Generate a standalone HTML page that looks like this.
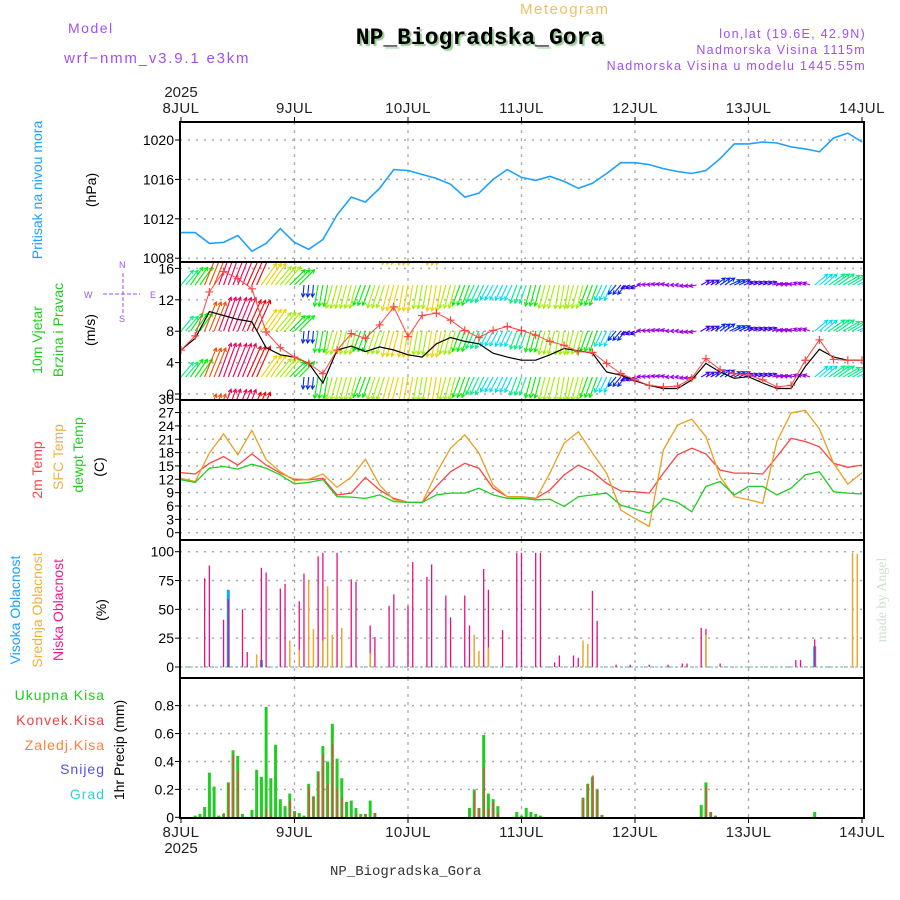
<!DOCTYPE html>
<html><head><meta charset="utf-8"><style>
body{margin:0;background:#fff;width:900px;height:900px;overflow:hidden;font-family:"Liberation Sans",sans-serif}
svg{position:absolute;left:0;top:0}
</style></head><body>
<svg id="chart" width="900" height="900" viewBox="0 0 900 900" font-family="Liberation Sans, sans-serif">
<g id="hdr">
<text x="68" y="33" font-size="14" fill="#a050f0" letter-spacing="1.5">Model</text>
<text x="64" y="63" font-size="15" fill="#a050f0" letter-spacing="1.8">wrf−nmm_v3.9.1 e3km</text>
<text x="520" y="14" font-size="15" fill="#f0c060" letter-spacing="1.5">Meteogram</text>
<text x="480" y="44" font-size="23" font-weight="bold" font-family="Liberation Mono, monospace" text-anchor="middle" fill="#000" style="text-shadow:2px 2px 1px #9c9">NP_Biogradska_Gora</text>
<text x="866" y="38" font-size="12.5" fill="#a050f0" text-anchor="end" letter-spacing="1.3">lon,lat (19.6E, 42.9N)</text>
<text x="866" y="54" font-size="12.5" fill="#a050f0" text-anchor="end" letter-spacing="1.3">Nadmorska Visina 1115m</text>
<text x="866" y="70" font-size="12.5" fill="#a050f0" text-anchor="end" letter-spacing="1.3">Nadmorska Visina u modelu 1445.55m</text>
<text x="330" y="875" font-size="14" font-family="Liberation Mono, monospace" fill="#333">NP_Biogradska_Gora</text>
<text transform="translate(886,600) rotate(-90)" font-size="14" font-family="Liberation Serif, serif" fill="#cfe0cf" text-anchor="middle">made by Angel</text>
</g>
<g font-size="14">
<text transform="translate(42,190) rotate(-90)" text-anchor="middle" fill="#1ea0ff">Pritisak na nivou mora</text>
<text transform="translate(96,190) rotate(-90)" text-anchor="middle" fill="#000">(hPa)</text>
<text transform="translate(42,340) rotate(-90)" text-anchor="middle" fill="#22cc22">10m Vjetar</text>
<text transform="translate(63,330) rotate(-90)" text-anchor="middle" fill="#22cc22">Brzina i Pravac</text>
<text transform="translate(95,330) rotate(-90)" text-anchor="middle" fill="#000">(m/s)</text>
<g fill="#a050f0" stroke="#a050f0" font-size="9">
<text x="84" y="298" stroke="none">W</text><text x="150" y="298" stroke="none">E</text>
<text x="119" y="268" stroke="none">N</text><text x="119" y="322" stroke="none">S</text>
<line x1="103" y1="294" x2="140" y2="294" stroke-dasharray="4,2"/><line x1="123" y1="273" x2="123" y2="314" stroke-dasharray="4,2"/>
</g>
<text transform="translate(42,470) rotate(-90)" text-anchor="middle" fill="#ff4444">2m Temp</text>
<text transform="translate(63,457) rotate(-90)" text-anchor="middle" fill="#f0b040">SFC Temp</text>
<text transform="translate(83,455) rotate(-90)" text-anchor="middle" fill="#22cc22">dewpt Temp</text>
<text transform="translate(104,467) rotate(-90)" text-anchor="middle" fill="#000">(C)</text>
<text transform="translate(20,610) rotate(-90)" text-anchor="middle" fill="#1ea0ff">Visoka Oblacnost</text>
<text transform="translate(42,610) rotate(-90)" text-anchor="middle" fill="#f0b040">Srednja Oblacnost</text>
<text transform="translate(63,610) rotate(-90)" text-anchor="middle" fill="#ff1493">Niska Oblacnost</text>
<text transform="translate(106,610) rotate(-90)" text-anchor="middle" fill="#000">(%)</text>
<text x="105" y="700" text-anchor="end" fill="#22cc22" letter-spacing="1">Ukupna  Kisa</text>
<text x="105" y="725" text-anchor="end" fill="#ee4444" letter-spacing="1">Konvek.Kisa</text>
<text x="105" y="750" text-anchor="end" fill="#ff8040" letter-spacing="1">Zaledj.Kisa</text>
<text x="105" y="774" text-anchor="end" fill="#5050ff" letter-spacing="1">Snijeg</text>
<text x="105" y="799" text-anchor="end" fill="#30d0d0" letter-spacing="1">Grad</text>
<text transform="translate(124,750) rotate(-90)" text-anchor="middle" fill="#000">1hr Precip (mm)</text>
</g>
<g id="plot"></g>
</svg>
<script>
const dayLabels=["8JUL","9JUL","10JUL","11JUL","12JUL","13JUL","14JUL"];
const pressure=[1010.6,1010.6,1009.5,1009.6,1010.3,1008.7,1009.5,1011.0,1009.6,1008.9,1009.9,1012.4,1014.2,1013.7,1015.1,1017.0,1016.9,1016.5,1016.1,1015.5,1014.2,1014.6,1016.0,1017.0,1016.2,1015.9,1016.3,1015.8,1015.1,1015.6,1016.6,1017.7,1017.7,1017.5,1017.1,1016.8,1016.6,1016.9,1018.1,1019.6,1019.6,1019.8,1019.7,1019.3,1019.1,1018.8,1020.2,1020.7,1019.8];
const windSpeed=[5.6,7.1,10.5,10.0,9.5,9.2,5.9,5.0,4.7,3.9,1.4,5.6,6.1,5.4,6.0,5.6,5.0,4.7,6.4,7.2,6.7,6.4,5.2,4.7,4.3,4.3,5.0,5.8,5.5,5.2,2.8,2.4,1.7,1.1,0.7,0.7,1.8,3.9,2.8,2.0,2.2,1.4,0.7,0.7,3.5,5.7,4.7,4.3,4.3];
const windGust=[5.6,7.4,13.0,15.6,14.7,13.4,7.9,5.9,4.7,3.9,2.6,5.6,7.7,7.1,8.8,11.1,7.3,10.0,10.3,9.4,8.1,7.2,8.1,8.6,8.1,7.5,6.7,6.2,5.4,5.3,3.9,2.6,1.8,1.1,0.9,1.0,2.0,4.5,3.1,2.6,2.4,1.8,0.9,1.1,4.3,6.9,4.4,4.3,4.3];
const vecSpeed=[8,9,13,15,15,14,11,10,9,5,9,10,10,9,10,11,11,10,11,10,9,8,7,7,8,9,10,10,10,9,7,5,4,3,3,3,3,4,5,5,4,4,3,3,3,7,8,8,7];
const vecDir=[50,55,68,70,68,66,55,50,45,-95,-100,-105,-105,-110,-108,-105,-100,-100,-100,-105,-110,-115,-118,-115,-110,-105,-105,-100,-105,-110,-115,-130,-160,175,170,180,-170,30,35,25,20,20,10,170,160,40,35,30,25];
const temp2m=[13.5,13.2,15.6,17.1,15.2,17.7,15.2,13.4,12.0,11.9,12.2,8.5,8.9,12.4,9.6,7.7,6.8,6.8,10.4,13.7,15.6,14.5,10.0,8.1,8.1,7.7,9.6,13.0,15.2,13.7,11.1,9.4,9.2,8.9,13.4,17.5,19.0,17.7,14.1,13.4,13.4,13.2,17.1,21.2,20.5,19.3,15.6,14.7,15.2];
const tempSfc=[12.2,11.5,17.9,22.2,17.5,23.0,16.4,13.7,11.7,12.0,13.2,10.2,12.5,16.5,10.7,7.4,6.8,6.8,13.4,19.0,22.0,17.9,10.7,8.1,8.1,7.5,13.4,20.1,22.7,17.9,13.4,5.1,3.2,1.4,18.6,24.2,25.5,21.6,12.6,8.1,7.4,6.6,20.5,26.9,27.5,23.3,15.6,10.9,13.5];
const tempDew=[11.9,11.3,14.5,14.9,14.3,15.4,14.5,13.0,11.0,11.3,11.9,8.1,8.0,7.7,8.5,7.0,6.8,6.8,8.5,8.9,8.9,10.0,8.5,7.7,7.7,7.4,7.5,5.9,8.1,8.5,8.9,6.2,5.3,4.4,7.7,6.8,4.7,10.4,11.5,8.5,10.4,10.4,8.5,10.0,13.0,13.7,9.2,8.9,8.7];
const lowHours=[5,6,9,10,13,14,17,18,21,22,25,26,29,30,33,36,37,40,41,44,45,48,49,52,53,56,57,60,61,64,65,68,71,72,75,76,79,80,83,84,87,88,92,95,99,103,106,107,110,111,114,130,131,134];
const lowVals=[77,88,41,59,50,13,86,82,68,72,57,81,96,99,99,76,74,36,26,53,63,53,91,78,89,62,43,62,36,85,67,32,99,99,99,99,4,10,10,8,66,40,2,2,2,2,3,3,34,33,3,6,6,24];
const midHours=[16,23,25,27,28,30,31,32,34,40,62,63,65,85,86,111,142,143];
const midVals=[11,23,15,75,33,23,70,28,34,12,28,14,17,23,20,28,99,98];
const highHours=[10,17,134];
const highVals=[67,6,18];
const rainHours=[3,4,5,6,7,8,9,10,11,12,13,15,16,17,18,19,20,21,22,23,24,25,26,27,28,29,30,31,32,33,34,35,36,37,38,39,40,41,61,62,63,64,65,66,67,71,72,73,74,75,76,85,86,87,88,89,110,111,112,113,134];
const rainVals=[0.012,0.024,0.074,0.32,0.22,0.012,0.024,0.25,0.48,0.44,0.024,0.053,0.34,0.29,0.79,0.28,0.52,0.13,0.08,0.17,0.045,0.031,0.012,0.24,0.15,0.33,0.51,0.40,0.67,0.42,0.28,0.11,0.12,0.067,0.024,0.024,0.12,0.031,0.067,0.2,0.067,0.59,0.17,0.13,0.08,0.038,0.012,0.067,0.038,0.024,0.012,0.14,0.24,0.29,0.2,0.017,0.088,0.25,0.038,0.012,0.038];
const convHours=[9,10,11,12,16,18,19,23,24,27,28,29,30,31,32,33,34,37,39,41,62,63,64,65,66,67,85,86,87,88,89,111,112,113];
const convVals=[0.031,0.25,0.45,0.33,0.012,0.06,0.012,0.12,0.031,0.22,0.15,0.32,0.45,0.24,0.53,0.21,0.14,0.024,0.024,0.031,0.18,0.067,0.35,0.06,0.11,0.031,0.14,0.24,0.30,0.2,0.017,0.22,0.038,0.012];
const pTicks=[1008,1012,1016,1020];
const wTicks=[0,4,8,12,16];
const tTicks=[0,3,6,9,12,15,18,21,24,27,30];
const cTicks=[0,25,50,75,100];
const rTicks=[0,0.2,0.4,0.6,0.8];

const NS="http://www.w3.org/2000/svg";
const plot=document.getElementById('plot');
const X0=181,X1=862,PL=180,PR=864;
const xH=h=>X0+h*(X1-X0)/144;
const yP=p=>140+(1020-p)*9.85;
const yW=s=>394-s*7.85;
const yT=t=>532.7-t*4.45;
const yC=c=>667-c*1.153;
const yR=v=>817.3-v*139.6;
const panels=[[122,262],[262,400],[400,540],[540,678],[678,818]];
function mk(tag,attrs,parent){const e=document.createElementNS(NS,tag);for(const k in attrs)e.setAttribute(k,attrs[k]);(parent||plot).appendChild(e);return e;}
// clip paths
const defs=mk('defs',{});
panels.forEach((p,i)=>{const c=mk('clipPath',{id:'clip'+i},defs);mk('rect',{x:PL,y:p[0],width:PR-PL,height:p[1]-p[0]},c);});
// grids
function hgrid(vals,fy,i,fmt){
  vals.forEach(v=>{const y=fy(v);
    if(y>panels[i][0]+2&&y<panels[i][1]-2){const g=mk('line',{x1:PL,x2:PR,y1:y,y2:y,stroke:'#aaa','stroke-dasharray':'2,6','stroke-width':1.5});
    
    }
    const tk=mk('line',{x1:PL-5,x2:PL,y1:y,y2:y,stroke:'#000'});
    
    
    const t=mk('text',{x:PL-6,y:y+5,'font-size':14,'text-anchor':'end',fill:'#000'});
    t.textContent=fmt(v);
    
    
  });
}
panels.forEach((p,i)=>{for(let d=1;d<6;d++){const x=xH(d*24);const l=mk('line',{x1:x,x2:x,y1:p[0],y2:p[1],stroke:'#aaa','stroke-dasharray':'3,5','stroke-width':1.3});

}});
hgrid(pTicks,yP,0,v=>v);
hgrid(wTicks,yW,1,v=>v);
hgrid(tTicks,yT,2,v=>v);
hgrid(cTicks,yC,3,v=>v);
hgrid(rTicks,yR,4,v=>v===0?'0':v.toFixed(1));
// date labels
dayLabels.forEach((d,i)=>{const x=xH(i*24);
  const a=mk('text',{x:x,y:113,'font-size':15,'text-anchor':'middle',fill:'#222','letter-spacing':0.5});a.textContent=d;
  
  
  const b=mk('text',{x:x,y:837,'font-size':15,'text-anchor':'middle',fill:'#222','letter-spacing':0.5});b.textContent=d;
  
  
  const t1=mk('line',{x1:x,x2:x,y1:122,y2:117,stroke:'#000'});
  
  
  const t2=mk('line',{x1:x,x2:x,y1:818,y2:823,stroke:'#000'});
  
  
});
const y1=mk('text',{x:xH(0),y:97,'font-size':15,'text-anchor':'middle',fill:'#222'});y1.textContent='2025';


const y2=mk('text',{x:xH(0),y:853,'font-size':15,'text-anchor':'middle',fill:'#222'});y2.textContent='2025';


// line helper
function line(arr,fy,color,i,name,w){
  const pts=arr.map((v,k)=>xH(k*3).toFixed(1)+','+fy(v).toFixed(1)).join(' ');
  const pl=mk('polyline',{points:pts,fill:'none',stroke:color,'stroke-width':w||1.3,'clip-path':'url(#clip'+i+')'});
  
  
  return pl;
}
line(pressure,yP,'#1ea0ff',0,'pressure-line',1.6);
// wind vectors
function hue(s){const st=[[3,280],[5,230],[7,185],[9,120],[10.5,60],[12.5,30],[15,-20]];
  if(s<=st[0][0])return 280;for(let i=1;i<st.length;i++){if(s<=st[i][0]){const a=st[i-1],b=st[i];return a[1]+(b[1]-a[1])*(s-a[0])/(b[0]-a[0]);}}return -20;}
const wg=mk('g',{'clip-path':'url(#clip1)'});


const bases=[239,285,331,377,423];
for(let h=0;h<=144;h++){
  const k=Math.min(48,Math.round(h/3));
  const s=vecSpeed[k],a=vecDir[k]*Math.PI/180,L=s*2.4;
  const x=xH(h);const col='hsl('+((hue(s)+360)%360)+',100%,47%)';
  bases.forEach(b=>{
    const ex=x+L*Math.cos(a),ey=b-L*Math.sin(a);
    const ar=mk('path',{d:'M'+x.toFixed(1)+','+b+'L'+ex.toFixed(1)+','+ey.toFixed(1)+
      'M'+(ex-4*Math.cos(a-0.5)).toFixed(1)+','+(ey+4*Math.sin(a-0.5)).toFixed(1)+'L'+ex.toFixed(1)+','+ey.toFixed(1)+
      'L'+(ex-4*Math.cos(a+0.5)).toFixed(1)+','+(ey+4*Math.sin(a+0.5)).toFixed(1),stroke:col,'stroke-width':1.1,fill:'none'},wg);
    
    
  });
}
line(windSpeed,yW,'#000',1,'wind-speed-line',1.2);
line(windGust,yW,'#ff4444',1,'wind-gust-line',1);
windGust.forEach((v,k)=>{const x=xH(k*3),y=yW(v);
  const m=mk('path',{d:`M${x-4},${y}h8M${x},${y-4}v8`,stroke:'#ff4444','stroke-width':1.2,'clip-path':'url(#clip1)'});
  
  });
line(temp2m,yT,'#ff4444',2,'temp-2m-line');
line(tempSfc,yT,'#e8a020',2,'temp-sfc-line');
line(tempDew,yT,'#22cc22',2,'dewpoint-line');
// clouds
function bars(hours,vals,fy,color,w,off,name,i){
  hours.forEach((h,j)=>{const x=xH(h)+off,y=fy(vals[j]),y0=fy(0);
    const r=mk('rect',{x:x-w/2,y:y,width:w,height:Math.max(0,y0-y),fill:color,'clip-path':'url(#clip'+i+')'});
    
    });
}
const cb=mk('line',{x1:PL,x2:PR,y1:yC(0),y2:yC(0),stroke:'#9cc','stroke-width':1.5,'stroke-dasharray':'3,2'});


bars(highHours,highVals,yC,'#1ea0ff',3,0,'high-cloud-bar',3);
bars(lowHours,lowVals,yC,'#e8107f',1.3,0,'low-cloud-bar',3);
bars(midHours,midVals,yC,'#e8a830',1.5,0,'mid-cloud-bar',3);
bars(rainHours,rainVals,yR,'#22cc22',3,0,'total-rain-bar',4);
bars(convHours,convVals,yR,'#ee4444',1.4,0.4,'convective-rain-bar',4);
// frames
panels.forEach((p,i)=>{const r=mk('rect',{x:PL,y:p[0],width:PR-PL,height:p[1]-p[0],fill:'none',stroke:'#000','stroke-width':2});

});
</script>
</body></html>
